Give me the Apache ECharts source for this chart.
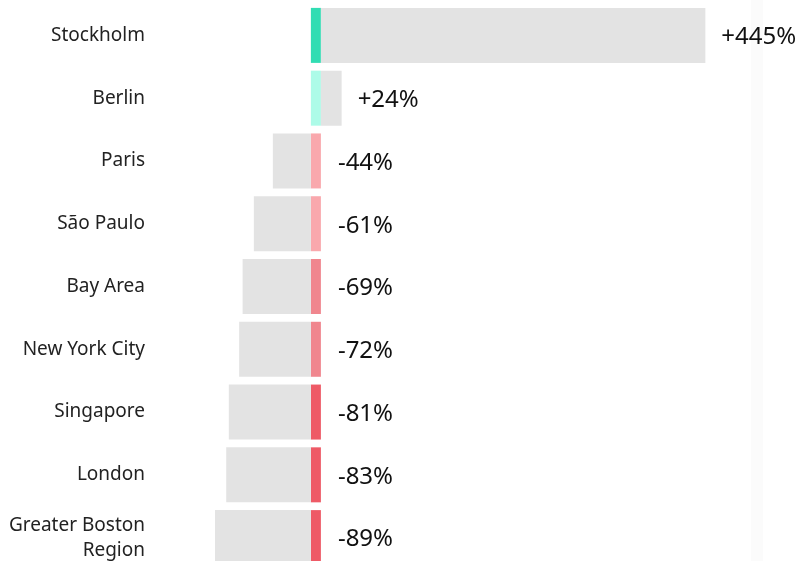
<!DOCTYPE html>
<html>
<head>
<meta charset="utf-8">
<script src="https://cdn.jsdelivr.net/npm/echarts@6/dist/echarts.min.js"></script>
<style>
  html, body { margin: 0; padding: 0; background: #fff; overflow: hidden; }
  /* last row runs past the bottom edge in the original, so the canvas is a bit taller than the window */
  #chart { width: 799px; height: 569px; }
</style>
</head>
<body>
<div id="chart"></div>
<script>
// cities, top to bottom
const cities = ['Stockholm', 'Berlin', 'Paris', 'São Paulo', 'Bay Area', 'New York City', 'Singapore', 'London', 'Greater Boston\nRegion']
// change shown in the label (%)
const changes = [445, 24, -44, -61, -69, -72, -81, -83, -89]
// length of the grey bar as drawn
const barValues = [445, 24, -44, -66, -79, -83, -95, -98, -111]

// small coloured marker sitting right of zero
const MARKER = 11.6

function markerColor(v) {
  if (v > 100) return '#31ddb3'
  if (v > 0) return '#adfbe8'
  if (v > -65) return '#f9a8ad'
  if (v > -75) return '#f0868e'
  return '#ee5a66'
}

function fmt(v) {
  return (v > 0 ? '+' : '') + v + '%'
}

const labelStyle = {
  show: true,
  position: 'right',
  offset: [0, 2],
  fontFamily: 'Noto Sans',
  fontSize: 24,
  color: '#111'
}

const markerData = changes.map((v, i) => ({
  value: MARKER,
  itemStyle: { color: markerColor(v) },
  // negative rows carry the label on the marker
  label: v < 0 ? Object.assign({}, labelStyle, { distance: 17, formatter: fmt(v) }) : { show: false }
}))

const greyData = barValues.map((v, i) => ({
  value: v,
  label: v > 0 ? Object.assign({}, labelStyle, { distance: 16, formatter: fmt(changes[i]) }) : { show: false }
}))

const chart = echarts.init(document.getElementById('chart'))
chart.setOption({
  animation: false,
  backgroundColor: '#fff',
  grid: { left: 145, right: 0, top: 4, bottom: 0 },
  graphic: [{
    type: 'rect',
    shape: { x: 751, y: 0, width: 12, height: 569 },
    style: { fill: '#fbfbfb' },
    z: -1
  }],
  xAxis: {
    type: 'value',
    min: -192,
    max: 565,
    show: false
  },
  yAxis: {
    type: 'category',
    data: cities,
    inverse: true,
    axisLine: { show: false },
    axisTick: { show: false },
    axisLabel: {
      margin: 0,
      fontFamily: 'Noto Sans',
      fontSize: 19,
      lineHeight: 25,
      padding: [6, 0, 0, 0],
      color: '#222'
    }
  },
  series: [
    {
      type: 'bar',
      stack: 'row',
      barWidth: 55,
      data: markerData
    },
    {
      type: 'bar',
      stack: 'row',
      barWidth: 55,
      itemStyle: { color: '#e3e3e3' },
      data: greyData
    }
  ]
})
</script>
</body>
</html>
